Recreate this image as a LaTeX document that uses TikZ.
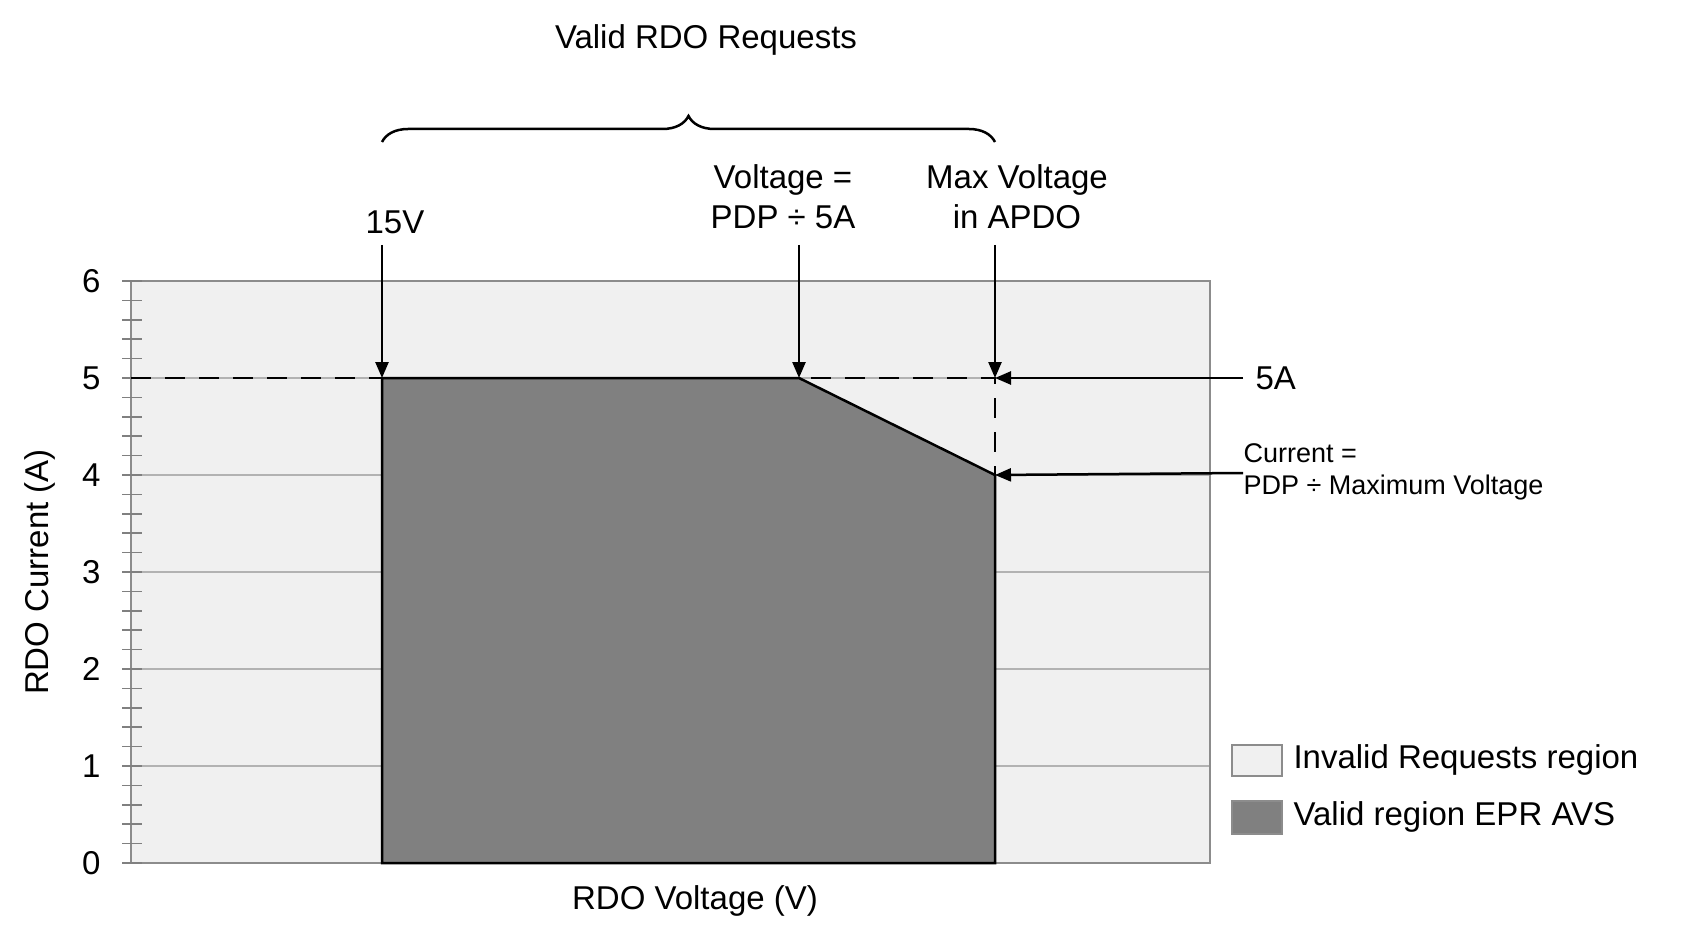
\documentclass[tikz,border=0pt]{standalone}
\usepackage{fontspec}
\setmainfont{Liberation Sans}
\usetikzlibrary{decorations.pathreplacing,arrows.meta}
\begin{document}
\begin{tikzpicture}[x=1pt,y=-1pt,
    lbl/.style={font=\fontsize{33}{40}\selectfont, align=center},
    small/.style={font=\fontsize{27}{32}\selectfont, align=left},
    pointer/.style={line width=2.5pt, -{Triangle[length=16pt,width=13pt]}},
    grid/.style={draw=black!30, line width=1.2pt}]
    \useasboundingbox (0,0) rectangle (1700,941);
    % plot area
    \fill[black!6] (131,281) rectangle (1210,863);
    \foreach \i in {1,...,5} \draw[grid] (131,863-97*\i) -- (1210,863-97*\i);
    \draw[black!45, line width=1.5pt] (131,281) rectangle (1210,863);
    \foreach \i in {0,...,30} \draw[black!50, line width=1.5pt] (122,863-19.4*\i) -- (142,863-19.4*\i);
    \foreach \i in {0,...,6} \node[lbl, anchor=east] (t\i) at (104,863-97*\i) {\i};
    % valid region
    \coordinate (a) at (382,863);
    \coordinate (b) at (382,378);
    \coordinate (c) at (799,378);
    \coordinate (d) at (995,475);
    \coordinate (e) at (995,863);
    \coordinate (m) at (995,378);
    \filldraw[fill=black!50, draw=black, line width=2.5pt] (a) -- (b) -- (c) -- (d) -- (e) -- cycle;
    \draw[dashed, line width=2.2pt, dash pattern=on 20pt off 14pt] (131,378) -- (m) -- (e);
    % labels with arrows
    \node[lbl] (v15) at (395,222) {15V};
    \node[lbl] (vpdp) at (783,197) {Voltage =\\PDP ÷ 5A};
    \node[lbl] (vmax) at (1017,197) {Max Voltage\\in APDO};
    \coordinate (s1) at (382,245);
    \coordinate (s2) at (799,245);
    \coordinate (s3) at (995,245);
    \draw[pointer] (s1) -- (b);
    \draw[pointer] (s2) -- (c);
    \draw[pointer] (s3) -- (m);
    \node[lbl, anchor=west] (a5) at (1252,378) {5A};
    \node[small, anchor=west] (cur) at (1240,472) {Current =\\PDP ÷ Maximum Voltage};
    \coordinate (s4) at (1243,378);
    \coordinate (s5) at (1243,473);
    \draw[pointer] (s4) -- (m);
    \draw[pointer] (s5) -- (d);
    % brace
    \draw[decorate, decoration={brace, amplitude=26pt}, line width=2.5pt] (382,142) -- (995,142);
    \node[lbl] (valid) at (706,40) {Valid RDO Requests};
    % axes titles
    \node[lbl] (xt) at (695,901) {RDO Voltage (V)};
    \node[lbl, rotate=90] (yt) at (40,572) {RDO Current (A)};
    % legend
    \draw[black!45, line width=1.2pt, fill=black!6] (1232,745) rectangle (1282,776);
    \draw[black!45, line width=1.2pt, fill=black!50] (1232,801) rectangle (1282,834);
    \node[lbl, anchor=west] (l1) at (1290,760) {Invalid Requests region};
    \node[lbl, anchor=west] (l2) at (1290,817) {Valid region EPR AVS};
\end{tikzpicture}
\end{document}
